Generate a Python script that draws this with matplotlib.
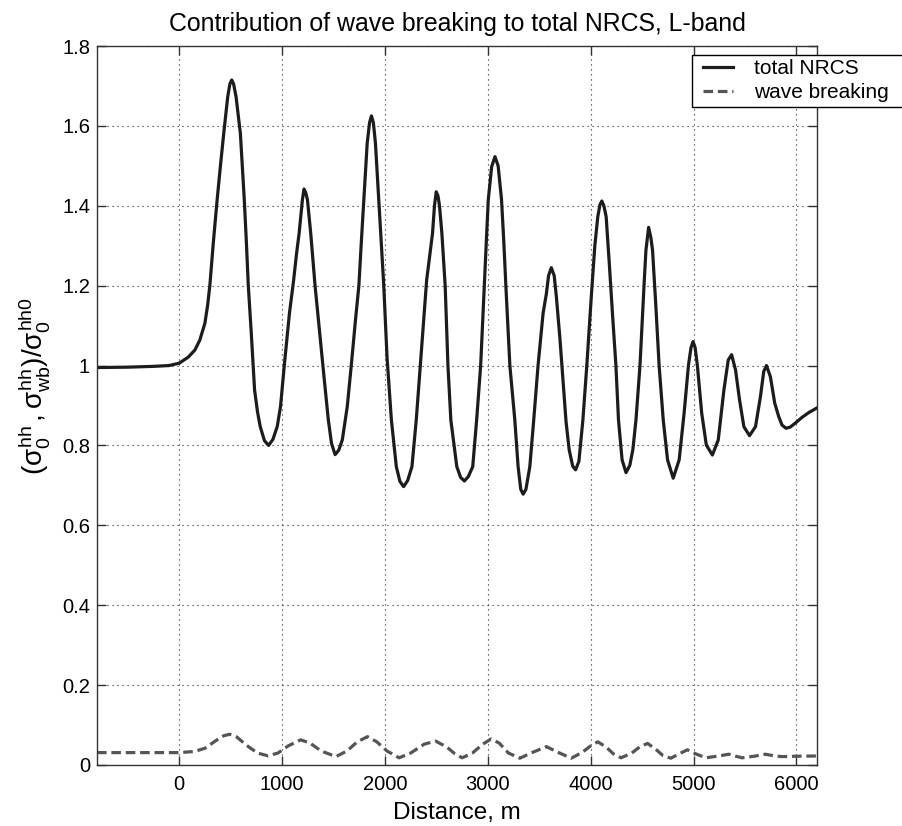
"""Contribution of wave breaking to total NRCS, L-band."""

import matplotlib
matplotlib.use('Agg')
import matplotlib.pyplot as plt
from matplotlib.legend_handler import HandlerLine2D

# values
distance_total = [-800, -500, -250, -100, 0, 87, 152, 200, 249, 275, 297, 330,
                  368, 400, 432, 471, 492, 510, 528, 552, 594, 632, 652, 671,
                  700, 732, 760, 787, 828, 868, 910, 952, 984, 1023, 1071,
                  1110, 1140, 1165, 1197, 1213, 1230, 1246, 1278, 1320, 1362,
                  1410, 1449, 1480, 1515, 1550, 1585, 1633, 1672, 1713, 1746,
                  1770, 1794, 1827, 1850, 1868, 1887, 1907, 1939, 1963, 1987,
                  2020, 2062, 2110, 2145, 2181, 2220, 2262, 2304, 2343, 2375,
                  2405, 2440, 2462, 2481, 2498, 2515, 2530, 2553, 2585, 2612,
                  2640, 2698, 2735, 2772, 2810, 2853, 2891, 2930, 2965, 2985,
                  3004, 3037, 3069, 3100, 3133, 3155, 3175, 3214, 3262, 3294,
                  3320, 3343, 3370, 3408, 3446, 3488, 3537, 3569, 3590, 3617,
                  3645, 3666, 3700, 3730, 3760, 3790, 3825, 3853, 3885, 3924,
                  3962, 4005, 4040, 4069, 4090, 4108, 4128, 4150, 4182, 4214,
                  4245, 4270, 4305, 4343, 4380, 4410, 4440, 4479, 4521, 4537,
                  4563, 4585, 4601, 4630, 4665, 4705, 4747, 4802, 4860, 4908,
                  4950, 4975, 4995, 5015, 5037, 5079, 5124, 5183, 5240, 5295,
                  5337, 5370, 5408, 5447, 5489, 5544, 5602, 5650, 5682, 5709,
                  5747, 5789, 5828, 5860, 5899, 5940, 5989, 6053, 6118, 6200]
nrcs_total = [0.995, 0.996, 0.998, 1.0, 1.006, 1.021, 1.039, 1.064, 1.106,
              1.15, 1.2, 1.305, 1.415, 1.5, 1.581, 1.673, 1.705, 1.715, 1.705,
              1.673, 1.581, 1.415, 1.31, 1.2, 1.081, 0.939, 0.885, 0.847,
              0.812, 0.8, 0.815, 0.847, 0.897, 1.006, 1.131, 1.21, 1.28,
              1.331, 1.415, 1.442, 1.432, 1.415, 1.331, 1.2, 1.089, 0.964,
              0.864, 0.805, 0.777, 0.788, 0.814, 0.897, 1.0, 1.114, 1.2,
              1.31, 1.415, 1.557, 1.608, 1.625, 1.608, 1.557, 1.415, 1.31,
              1.205, 1.02, 0.864, 0.747, 0.71, 0.697, 0.712, 0.747, 0.864,
              1.0, 1.11, 1.214, 1.285, 1.331, 1.4, 1.435, 1.425, 1.4, 1.331,
              1.2, 1.0, 0.864, 0.747, 0.72, 0.711, 0.722, 0.747, 0.864, 1.0,
              1.2, 1.31, 1.415, 1.498, 1.523, 1.5, 1.415, 1.31, 1.2, 1.0,
              0.864, 0.747, 0.69, 0.678, 0.69, 0.747, 0.864, 1.0, 1.131, 1.18,
              1.225, 1.245, 1.225, 1.1725, 1.07, 0.964, 0.86, 0.79, 0.748,
              0.739, 0.76, 0.864, 1.0, 1.17, 1.3, 1.373, 1.403, 1.412, 1.4,
              1.373, 1.25, 1.12, 1.0, 0.864, 0.764, 0.732, 0.75, 0.79, 0.864,
              1.0, 1.214, 1.289, 1.346, 1.32, 1.289, 1.164, 1.0, 0.864, 0.764,
              0.718, 0.764, 0.881, 1.0, 1.045, 1.06, 1.045, 1.0, 0.881, 0.801,
              0.776, 0.814, 0.939, 1.014, 1.027, 0.989, 0.914, 0.847, 0.8245,
              0.847, 0.922, 0.985, 1.0, 0.972, 0.906, 0.872, 0.851, 0.843,
              0.846, 0.856, 0.87, 0.882, 0.894]

distance_wb = [-800, 0, 150, 250, 350, 430, 490, 560, 650, 760, 862, 960,
               1060, 1180, 1270, 1380, 1523, 1630, 1730, 1830, 1920, 2020,
               2137, 2250, 2380, 2491, 2600, 2680, 2750, 2850, 2950, 3030,
               3110, 3200, 3311, 3420, 3569, 3680, 3811, 3920, 4000, 4069,
               4150, 4220, 4295, 4400, 4480, 4553, 4630, 4700, 4779, 4860,
               4940, 5030, 5118, 5230, 5344, 5410, 5472, 5590, 5699, 5780,
               5860, 6000, 6200]
nrcs_wb = [0.031, 0.031, 0.034, 0.042, 0.060, 0.073, 0.077, 0.070, 0.050,
           0.030, 0.023, 0.030, 0.048, 0.063, 0.055, 0.035, 0.021, 0.035,
           0.058, 0.071, 0.058, 0.035, 0.018, 0.030, 0.052, 0.060, 0.045,
           0.028, 0.018, 0.030, 0.052, 0.065, 0.055, 0.030, 0.017, 0.030,
           0.046, 0.032, 0.017, 0.032, 0.048, 0.058, 0.045, 0.028, 0.018,
           0.030, 0.046, 0.054, 0.040, 0.024, 0.017, 0.028, 0.038, 0.027,
           0.018, 0.022, 0.027, 0.022, 0.018, 0.022, 0.027, 0.023, 0.021,
           0.022, 0.0225]

xticks = [0, 1000, 2000, 3000, 4000, 5000, 6000]
yticks = [0, 0.2, 0.4, 0.6, 0.8, 1, 1.2, 1.4, 1.6, 1.8]
ytick_labels = ['0', '0.2', '0.4', '0.6', '0.8', '1', '1.2', '1.4', '1.6',
                '1.8']

plt.rcParams['font.family'] = ['Liberation Sans', 'DejaVu Sans']
plt.rcParams['mathtext.fontset'] = 'custom'
plt.rcParams['mathtext.rm'] = 'Liberation Sans'
plt.rcParams['mathtext.it'] = 'Liberation Sans'
plt.rcParams['mathtext.bf'] = 'Liberation Sans:bold'

fig = plt.figure(figsize=(9.02, 8.26), dpi=100)
ax = fig.add_axes([97 / 902, 61 / 826, 720 / 902, 719 / 826])

ax.plot(distance_total, nrcs_total, color='#1c1c1c', linewidth=2.3,
        label='total NRCS')
ax.plot(distance_wb, nrcs_wb, color='#555555', linewidth=2.3,
        linestyle=(0, (3, 1.5)), label='wave breaking')

ax.set_xlim(-800, 6200)
ax.set_ylim(0, 1.8)
ax.set_xticks(xticks)
ax.set_xticklabels([str(t) for t in xticks])
ax.set_yticks(yticks)
ax.set_yticklabels(ytick_labels)
ax.tick_params(direction='in', top=True, right=True, length=6.5,
               width=1, color='#333333', labelsize=14.5)
ax.tick_params(axis='x', pad=7)
ax.tick_params(axis='y', pad=5)
for spine in ax.spines.values():
    spine.set_color('#333333')
    spine.set_linewidth(1)

ax.grid(True, color='#222222', linewidth=0.8, linestyle=(0, (1, 3.5)))
ax.set_axisbelow(True)

ax.set_title('Contribution of wave breaking to total NRCS, L-band',
             fontsize=17.9, pad=11)
ax.set_xlabel('Distance, m', fontsize=17.5, labelpad=6)
ax.set_ylabel(r'$(\sigma_0^{hh}\,,\sigma_{wb}^{hh})/\sigma_0^{hh0}$',
              fontsize=20)
ax.yaxis.set_label_coords(-0.063, 0.527)

# legend sits partly outside the axes and runs off the right edge
leg = ax.legend(loc='upper left',
                bbox_to_anchor=(692 / 902, 1 - 109 / 826, 225 / 902, 54 / 826),
                bbox_transform=fig.transFigure, mode='expand', fontsize=15,
                frameon=True, fancybox=False, framealpha=1,
                edgecolor='black', borderaxespad=0, borderpad=0.2,
                labelspacing=0.25, handlelength=1.78, handletextpad=1.0,
                handler_map={ax.lines[0]: HandlerLine2D(xpad=0.34),
                             ax.lines[1]: HandlerLine2D(xpad=0.34)})
leg.get_frame().set_linewidth(1)

fig.savefig('out.png', dpi=100, facecolor='white')
